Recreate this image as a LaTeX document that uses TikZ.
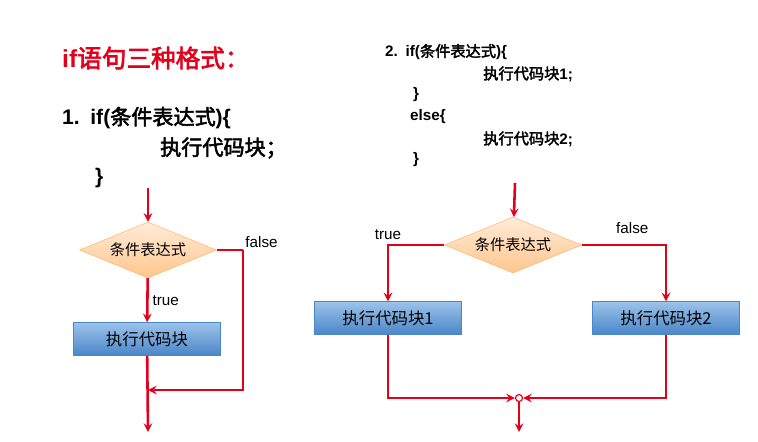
\documentclass[tikz,border=0pt]{standalone}
\usepackage{fontspec}
\setmainfont{Liberation Sans}
\newfontfamily\cjk[AutoFakeBold=2.5]{Noto Sans CJK SC}
\usetikzlibrary{shapes.geometric, arrows}
\definecolor{flowred}{HTML}{E3001B}
\definecolor{boxtop}{HTML}{9CC3EA}
\definecolor{boxbot}{HTML}{4A86C8}
\newcommand{\unitpx}{*0.03cm}
\tikzstyle{arrow} = [line width=2.2pt, flowred, ->, >=stealth]
\tikzstyle{line} = [line width=2.2pt, flowred]
\tikzstyle{decision} = [diamond, aspect=2.5, minimum width=137\unitpx, minimum height=56\unitpx, inner sep=0pt, draw=orange!60, top color=orange!15, bottom color=orange!45, font=\cjk\fontsize{13}{15}\selectfont]
\tikzstyle{block} = [rectangle, minimum width=147\unitpx, minimum height=33\unitpx, draw=boxbot, top color=boxtop, bottom color=boxbot, font=\cjk\fontsize{14}{16}\selectfont]
\tikzstyle{code} = [anchor=west, inner sep=0pt, font=\bfseries\fontsize{13}{15}\selectfont]
\tikzstyle{tag} = [black, font=\fontsize{13}{15}\selectfont]
\begin{document}
\begin{tikzpicture}[x=0.03cm, y=-0.03cm]
		\useasboundingbox (0,0) rectangle (758,441);
		% headings
		\node(title) [code, text=flowred, font=\bfseries\fontsize{21}{24}\selectfont] at (62,58) {if\cjk\bfseries 语句三种格式：};
		\node(c1) [code, font=\bfseries\fontsize{18}{20}\selectfont] at (62,118) {1.\enspace if(\cjk\bfseries 条件表达式\rmfamily )\{};
		\node(c2) [code, font=\bfseries\fontsize{18}{20}\selectfont] at (160,148) {\cjk\bfseries 执行代码块；};
		\node(c3) [code, font=\bfseries\fontsize{18}{20}\selectfont] at (95,178) {\}};
		\node(d1) [code] at (385,52) {2.\enspace if(\cjk\bfseries 条件表达式\rmfamily )\{};
		\node(d2) [code] at (483,74) {\cjk\bfseries 执行代码块\rmfamily 1;};
		\node(d3) [code] at (413,95) {\}};
		\node(d4) [code] at (410,117) {else\{};
		\node(d5) [code] at (483,139) {\cjk\bfseries 执行代码块\rmfamily 2;};
		\node(d6) [code] at (413,160) {\}};
		% first chart
		\coordinate(s1) at (148,188);
		\node(q1) [decision] at (148,250) {条件表达式};
		\node(b1) [block] at (147,339) {执行代码块};
		\coordinate(r1) at (243,250);
		\coordinate(j1) at (148,390);
		\coordinate(e1) at (148,432);
		\draw [arrow] (s1) -- (q1);
		\draw [arrow] (q1) -- (b1) node[pos=0.5, right, tag] {true};
		\draw [line] (q1.east) -- (r1) node[above right, tag, inner sep=1pt] {false};
		\draw [arrow] (r1) |- (j1);
		\draw [arrow] (b1) -- (e1);
		% second chart
		\coordinate(s2) at (515,183);
		\node(q2) [decision] at (513,245) {条件表达式};
		\node(b2) [block] at (388,318) {执行代码块1};
		\node(b3) [block] at (666,318) {执行代码块2};
		\node(m2) [circle, draw=flowred, fill=white, line width=1pt, minimum size=7\unitpx, inner sep=0pt] at (519,398) {};
		\coordinate(e2) at (519,432);
		\draw [arrow] (s2) -- (q2);
		\draw [arrow] (q2.west) -| (b2) node[pos=0.5, above, tag] {true};
		\draw [arrow] (q2.east) -| (b3) node[pos=0.3, above, tag, yshift=5pt] {false};
		\draw [arrow] (b2) |- (m2);
		\draw [arrow] (b3) |- (m2);
		\draw [arrow] (m2) -- (e2);
	\end{tikzpicture}
\end{document}
